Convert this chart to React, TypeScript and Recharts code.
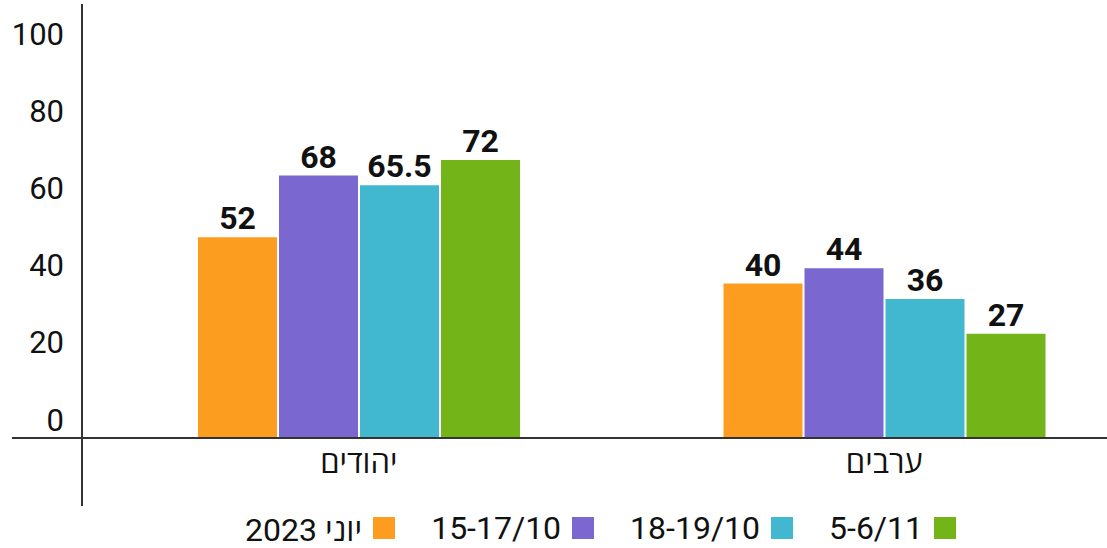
import { BarChart, Bar, XAxis, YAxis, Legend, LabelList, Customized } from 'recharts';

const CATEGORIES = ['יהודים', 'ערבים'];
const JUNE_2023 = [52, 40];
const OCT_15_17 = [68, 44];
const OCT_18_19 = [65.5, 36];
const NOV_5_6 = [72, 27];
const Y_TICKS = [0, 20, 40, 60, 80, 100];

const SERIES = [
    { key: 'june', name: 'יוני 2023', color: '#FD9D20' },
    { key: 'oct1', name: '15-17/10', color: '#7B67D0' },
    { key: 'oct2', name: '18-19/10', color: '#41B8D0' },
    { key: 'nov', name: '5-6/11', color: '#73B519' },
];

const chartData = CATEGORIES.map((name, i) => ({
    name,
    june: JUNE_2023[i],
    oct1: OCT_15_17[i],
    oct2: OCT_18_19[i],
    nov: NOV_5_6[i],
}));

const AXIS = '#333333';

function YTick({ y, payload }: any) {
    return (
        <text x={64} y={y - 18} textAnchor="end" dominantBaseline="central" fill="#111" fontSize={31}>
            {payload.value}
        </text>
    );
}

function LegendBox() {
    return (
        <div style={{ height: 40, display: 'flex', alignItems: 'center', paddingLeft: 245, fontSize: 32, color: '#111' }}>
            {SERIES.map((s) => (
                <div key={s.key} style={{ display: 'flex', alignItems: 'center', marginRight: 36 }}>
                    <span style={{ direction: 'rtl', unicodeBidi: 'plaintext' }}>{s.name}</span>
                    <span style={{ width: 22, height: 22, background: s.color, marginLeft: 11 }} />
                </div>
            ))}
        </div>
    );
}

export default function App() {
    return (
        <div style={{ position: 'absolute', left: 0, top: 0, width: 1107, height: 548, overflow: 'hidden', background: '#fff', fontFamily: "Roboto, 'Open Sans', sans-serif" }}>
            <BarChart
                width={1150}
                height={548}
                data={chartData}
                margin={{ top: 52, right: 0, left: 0, bottom: 0 }}
                barSize={79}
                barGap={2}
            >
                <XAxis
                    dataKey="name"
                    padding={{ left: 84, right: 3 }}
                    height={70}
                    tickLine={false}
                    axisLine={{ stroke: AXIS, strokeWidth: 2 }}
                    tick={{ fill: '#111', fontSize: 31 }}
                    tickMargin={7}
                />
                <YAxis
                    width={12}
                    domain={[0, 100]}
                    ticks={Y_TICKS}
                    axisLine={false}
                    tickLine={false}
                    tick={<YTick />}
                />
                <Legend verticalAlign="bottom" content={<LegendBox />} />
                {SERIES.map((s) => (
                    <Bar key={s.key} dataKey={s.key} name={s.name} fill={s.color} isAnimationActive={false}>
                        <LabelList dataKey={s.key} position="top" offset={8} fill="#111" fontSize={32} fontWeight="bold" />
                    </Bar>
                ))}
                <Customized component={() => <line x1={82} x2={82} y1={4} y2={506} stroke={AXIS} strokeWidth={2} />} />
            </BarChart>
        </div>
    );
}
